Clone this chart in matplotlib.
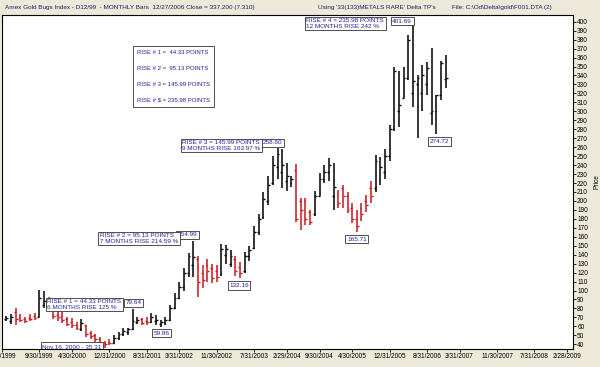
import matplotlib
matplotlib.use("Agg")
import matplotlib.pyplot as plt
import matplotlib.dates as mdates
import pandas as pd

plt.rcParams["font.family"] = ["Liberation Sans", "DejaVu Sans"]

# monthly OHLC bars, Feb 1999 .. Dec 2006
opens = [68, 66, 76, 71, 68, 69, 72, 70, 84, 88, 79, 73, 72, 68, 65, 62, 57, 61, 53, 50,
         46, 42, 43, 41, 47, 51, 54, 57, 65, 68, 66, 65, 66, 63, 64, 67, 80, 92, 104, 120,
         128, 135, 120, 128, 125, 122, 118, 140, 130, 135, 126, 122, 138, 148, 165, 182, 200, 220, 238, 232,
         222, 220, 235, 200, 200, 188, 185, 205, 225, 232, 205, 208, 214, 205, 192, 180, 192, 200, 214, 214,
         225, 232, 250, 280, 300, 315, 337, 320, 330, 320, 330, 298, 300, 318, 336]
highs = [72, 74, 80, 74, 71, 74, 75, 101, 100, 93, 81, 78, 76, 71, 69, 65, 68, 62, 55, 52,
         48, 44, 46, 50, 54, 58, 58, 79.64, 71, 69, 70, 75, 73, 67, 70, 84, 97, 110, 125, 142,
         154.99, 138, 128, 135, 130, 128, 152, 151, 145, 138, 132, 143, 150, 172, 185, 210, 228, 250, 258.60, 258,
         242, 228, 241, 203, 203, 190, 211, 231, 240, 248, 242, 212, 218, 210, 198, 190, 198, 207, 222, 251,
         249, 258, 285, 350, 345, 350, 385, 401.69, 341, 352, 355, 371, 318, 356, 363]
lows = [66, 63, 62, 65, 64, 66, 67, 70, 80, 77, 68, 66, 64, 60, 58, 56, 55, 48, 46, 43,
        40, 35.31, 39, 40, 45, 49, 50, 56, 63, 62, 62, 64, 62, 59.86, 62, 66, 79, 90, 99, 115,
        115, 93, 103, 110, 108, 110, 116, 130, 126, 116, 114, 120, 133, 146, 162, 180, 196, 218, 225, 214,
        211, 215, 177, 168, 173, 173, 183, 205, 220, 222, 190, 192, 192, 186, 175, 165.71, 178, 188, 198, 210,
        218, 225, 245, 278, 282, 315, 335, 305, 270, 300, 318, 285, 274.72, 313, 326]
closes = [69, 70, 68, 67, 66, 68, 69, 92, 88, 80, 72, 70, 67, 63, 61, 58, 64, 52, 49, 46,
          42, 40, 41, 47, 51, 55, 57, 66, 67, 64, 65, 71, 67, 65, 67, 80, 92, 104, 120, 138,
          137, 110, 112, 122, 114, 115, 146, 146, 138, 122, 120, 138, 145, 165, 180, 202, 218, 240, 252, 240,
          228, 225, 180, 190, 180, 177, 205, 225, 232, 240, 216, 198, 205, 190, 180, 172, 185, 195, 205, 245,
          238, 250, 280, 345, 307, 337, 380, 334, 337, 340, 348, 300, 318, 354, 337.2]

tick_labels = ["1/31/1999", "9/30/1999", "4/30/2000", "12/31/2000", "8/31/2001", "3/31/2002",
               "11/30/2002", "7/31/2003", "2/29/2004", "9/30/2004", "4/30/2005", "12/31/2005",
               "8/31/2006", "3/31/2007", "11/30/2007", "7/31/2008", "2/28/2009"]
price_ticks = list(range(40, 401, 10))

# labelled turning points: (month, value shown)
peak_months = ["2006-05", "2003-12", "2002-06", "2001-05"]
peak_labels = ["401.69", "258.60", "154.99", "79.64"]
rise_texts = ["RISE # 4 = 235.98 POINTS\n12 MONTHS RISE 242 %",
              "RISE # 3 = 145.99 POINTS\n9 MONTHS RISE 163.97 %",
              "RISE # 2 = 95.13 POINTS\n7 MONTHS RISE 214.59 %",
              "RISE # 1 = 44.33 POINTS\n6 MONTHS RISE 125 %"]
trough_months = ["2000-11", "2001-11", "2003-04", "2005-05", "2006-10"]
trough_labels = ["Nov.16, 2000 - 35.31", "59.86", "132.16", "165.71", "274.72"]
summary = ["RISE # 1 =  44.33 POINTS", "RISE # 2 =  95.13 POINTS",
           "RISE # 3 = 145.99 POINTS", "RISE # $ = 235.98 POINTS"]

BG = "#ECE9D8"
BLUE = "#22229A"
RED = "#C8161C"
FS = 4.6

months = pd.period_range("1999-02", "2006-12", freq="M")
xs = mdates.date2num(months.to_timestamp(how="end").normalize())
month_x = dict(zip(months.strftime("%Y-%m"), xs))
colors = [RED if c < o else "black" for o, c in zip(opens, closes)]

fig = plt.figure(figsize=(6, 3.67), dpi=100, facecolor=BG)
ax = fig.add_axes([2 / 600, 1 - 349 / 367, 571 / 600, 334 / 367])
ax.set_facecolor("white")

# OHLC bars
ax.vlines(xs, lows, highs, colors=colors, lw=1.1, zorder=2)
ax.hlines(opens, xs - 12, xs, colors=colors, lw=1.0, zorder=2)
ax.hlines(closes, xs, xs + 12, colors=colors, lw=1.0, zorder=2)

ax.set_xlim(mdates.date2num(pd.Timestamp("1999-02-20")),
            mdates.date2num(pd.Timestamp("2009-04-08")))
ax.set_ylim(34.75, 407.5)

tick_x = mdates.date2num(pd.to_datetime(tick_labels, format="%m/%d/%Y"))
ax.set_xticks(tick_x)
ax.tick_params(axis="x", length=2, width=0.6, labelbottom=False)
for tx, lab in zip(tick_x, tick_labels):
    ax.text(tx, -0.012, lab, transform=ax.get_xaxis_transform(), ha="center", va="top",
            fontsize=4.7, color="black", clip_on=False)

ax.yaxis.tick_right()
ax.set_yticks(price_ticks)
ax.tick_params(axis="y", length=2, width=0.6, pad=1, labelsize=4.7)
ax.yaxis.set_label_position("right")
ax.set_ylabel("Price", fontsize=4.7, labelpad=4)
for sp in ax.spines.values():
    sp.set_linewidth(0.8)

box = dict(boxstyle="square,pad=0.25", fc="white", ec="#333333", lw=0.6)


def _label(text, xy, offset, ha, va, clip=False):
    ax.annotate(text, xy=xy, xytext=offset, textcoords="offset pixels", ha=ha, va=va,
                fontsize=FS, color=BLUE, bbox=box, multialignment="left",
                linespacing=1.1, annotation_clip=False, clip_on=clip, zorder=5)


peak_offsets = [(-1, -1, "right", "center"), (-5, 3, "center", "bottom"),
                (-6, 4, "center", "bottom"), (1, 3.5, "center", "bottom")]
rise_offsets = [(-29, 2), (-17, 8), (-15, 8), (-11, 9.5)]
for m, lab, txt, (dx, dy, ha, va), (rx, ry) in zip(peak_months, peak_labels, rise_texts,
                                                    peak_offsets, rise_offsets):
    xy = (month_x[m], float(lab))
    _label(lab, xy, (dx, dy), ha, va)
    _label(txt, xy, (rx, ry), "right", "top")

trough_offsets = [(-3, 2, "right", "center"), (1, -4, "center", "top"),
                  (-1, -5, "center", "top"), (0, -5, "center", "top"), (3, -5, "center", "top")]
for m, lab, (dx, dy, ha, va) in zip(trough_months, trough_labels, trough_offsets):
    idx = list(months.strftime("%Y-%m")).index(m)
    _label(lab, (month_x[m], lows[idx]), (dx, dy), ha, va, clip=(m == "2000-11"))

ax.text(0.236, 0.895, "\n".join(summary), transform=ax.transAxes, ha="left", va="top",
        fontsize=4.3, color=BLUE, linespacing=3.7,
        bbox=dict(boxstyle="square,pad=0.7", fc="white", ec="#333333", lw=0.6), zorder=5)

# header strip
fig.text(5 / 600, 1 - 7 / 367,
         "Amex Gold Bugs Index - D12/99  - MONTHLY Bars  12/27/2006 Close = 337.200 (7.310)",
         fontsize=FS, color="#1C1C6C", va="center", ha="left")
fig.text(318 / 600, 1 - 7 / 367, "Using '33(133)METALS RARE' Delta TP's",
         fontsize=FS, color="#1C1C6C", va="center", ha="left")
fig.text(452 / 600, 1 - 7 / 367, "File: C:\\Od\\Delta\\gold\\F001.DTA (2)",
         fontsize=FS, color="#1C1C6C", va="center", ha="left")

fig.savefig("out.png", dpi=100, facecolor=BG)
